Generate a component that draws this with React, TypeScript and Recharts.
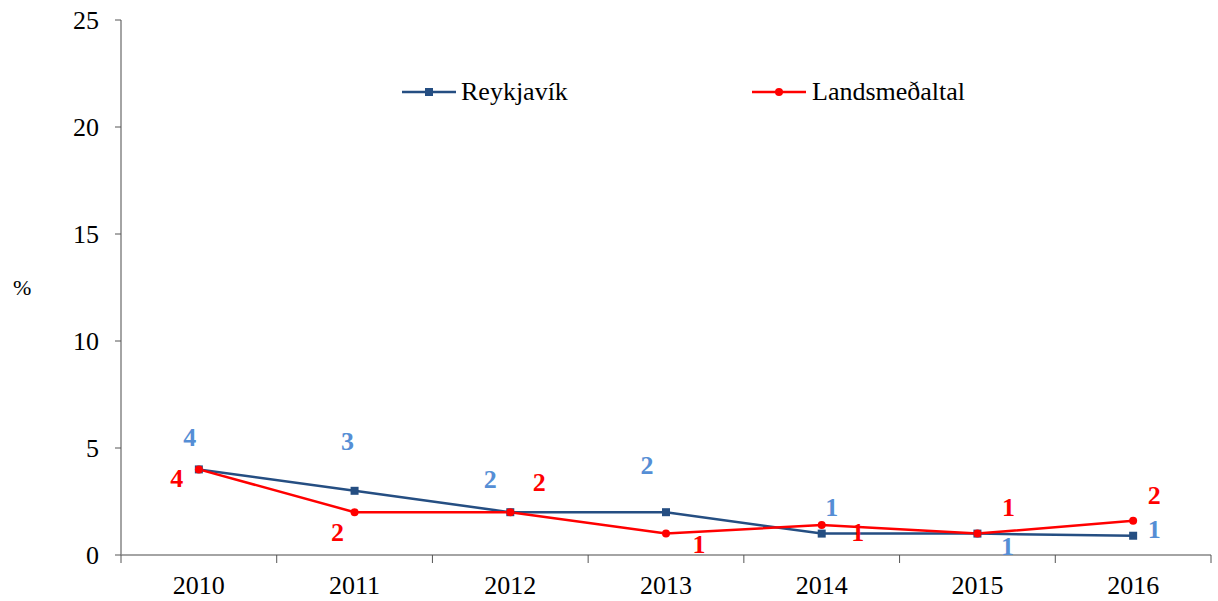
import React from 'react';
import { LineChart, Line, XAxis, YAxis, LabelList } from 'recharts';

const years = ['2010', '2011', '2012', '2013', '2014', '2015', '2016'];
const reykjavik = [4, 3, 2, 2, 1, 1, 0.9];
const landsmedaltal = [4, 2, 2, 1, 1.4, 1, 1.6];
const yTicks = [0, 5, 10, 15, 20, 25];

const W = 1218;
const H = 601;
const LEFT = 121;
const RIGHT = 7;
const HALF_BAND = (W - LEFT - RIGHT) / years.length / 2;
const FONT = '"Liberation Serif", "Times New Roman", serif';

const BLUE = '#254E82';
const LABEL_BLUE = '#558ED5';
const RED = '#FF0000';

// label offsets (dx, dy) from each point, to mimic the hand-placed labels
const rkOffsets = [[-9, -32], [-7, -49], [-20, -33], [-19, -47], [10, -26], [30, 13], [21, -6]];
const lmOffsets = [[-22, 9], [-17, 20], [29, -30], [33, 11], [36, 7], [31, -26], [21, -25]];

const chartData = years.map((year, i) => ({
  year,
  reykjavik: reykjavik[i],
  landsmedaltal: landsmedaltal[i]
}));

const makeLabel = (offsets: number[][], color: string) => (props: any) => {
  const { x, y, value, index } = props;
  const [dx, dy] = offsets[index] || [0, 0];
  return (
    <text
      x={x + dx}
      y={y + dy}
      textAnchor="middle"
      dominantBaseline="central"
      fill={color}
      fontFamily={FONT}
      fontSize={26}
      fontWeight="bold"
    >
      {Math.round(value)}
    </text>
  );
};

const XTick = (props: any) => {
  const { x, y, payload, index } = props;
  const last = index === years.length - 1;
  return (
    <g>
      <line x1={x - HALF_BAND} y1={y} x2={x - HALF_BAND} y2={y + 8} stroke="#555" />
      {last && <line x1={x + HALF_BAND} y1={y} x2={x + HALF_BAND} y2={y + 8} stroke="#555" />}
      <text x={x} y={y + 39} textAnchor="middle" fill="#000" fontFamily={FONT} fontSize={26}>
        {payload.value}
      </text>
    </g>
  );
};

const SquareDot = (props: any) => {
  const { cx, cy } = props;
  if (cx == null || cy == null) return null;
  return <rect x={cx - 4} y={cy - 4} width={8} height={8} fill={BLUE} />;
};

const ChartLegend = () => (
  <div style={{ position: 'absolute', left: 0, top: 74, width: W, height: 40, fontFamily: FONT, fontSize: 26 }}>
    <svg style={{ position: 'absolute', left: 400, top: 12 }} width={58} height={12}>
      <line x1={2} y1={6} x2={56} y2={6} stroke={BLUE} strokeWidth={2.5} />
      <rect x={25} y={2} width={8} height={8} fill={BLUE} />
    </svg>
    <span style={{ position: 'absolute', left: 461, top: 0, lineHeight: '36px', color: '#000' }}>
      Reykjavík
    </span>
    <svg style={{ position: 'absolute', left: 750, top: 12 }} width={58} height={12}>
      <line x1={2} y1={6} x2={56} y2={6} stroke={RED} strokeWidth={2.5} />
      <circle cx={29} cy={6} r={4} fill={RED} />
    </svg>
    <span style={{ position: 'absolute', left: 812, top: 0, lineHeight: '36px', color: '#000' }}>
      Landsmeðaltal
    </span>
  </div>
);

export default function App() {
  return (
    <div style={{ position: 'absolute', left: 0, top: 0, width: W, height: H, background: '#fff' }}>
      <LineChart
        width={W}
        height={H}
        data={chartData}
        margin={{ top: 20, right: RIGHT, left: 0, bottom: 0 }}
      >
        <XAxis
          dataKey="year"
          height={46}
          padding={{ left: HALF_BAND, right: HALF_BAND }}
          tickSize={0}
          tickMargin={0}
          tickLine={false}
          axisLine={{ stroke: '#868686', strokeWidth: 1.5 }}
          tick={<XTick />}
          interval={0}
        />
        <YAxis
          width={LEFT}
          domain={[0, 25]}
          ticks={yTicks}
          interval={0}
          tickSize={6}
          tickMargin={16}
          axisLine={{ stroke: '#868686', strokeWidth: 1.5 }}
          tickLine={{ stroke: '#555' }}
          tick={{ fill: '#000', fontFamily: FONT, fontSize: 26 }}
          label={{
            value: '%',
            position: 'insideLeft',
            dx: 8,
            dy: 0,
            style: { fill: '#000', fontFamily: FONT, fontSize: 22 }
          }}
        />
        <Line
          dataKey="reykjavik"
          name="Reykjavík"
          stroke={BLUE}
          strokeWidth={2.5}
          dot={<SquareDot />}
          activeDot={false}
          isAnimationActive={false}
        >
          <LabelList dataKey="reykjavik" content={makeLabel(rkOffsets, LABEL_BLUE)} />
        </Line>
        <Line
          dataKey="landsmedaltal"
          name="Landsmeðaltal"
          stroke={RED}
          strokeWidth={2.5}
          dot={{ r: 4, fill: RED, stroke: RED, strokeWidth: 0 }}
          activeDot={false}
          isAnimationActive={false}
        >
          <LabelList dataKey="landsmedaltal" content={makeLabel(lmOffsets, RED)} />
        </Line>
      </LineChart>
      <ChartLegend />
    </div>
  );
}
